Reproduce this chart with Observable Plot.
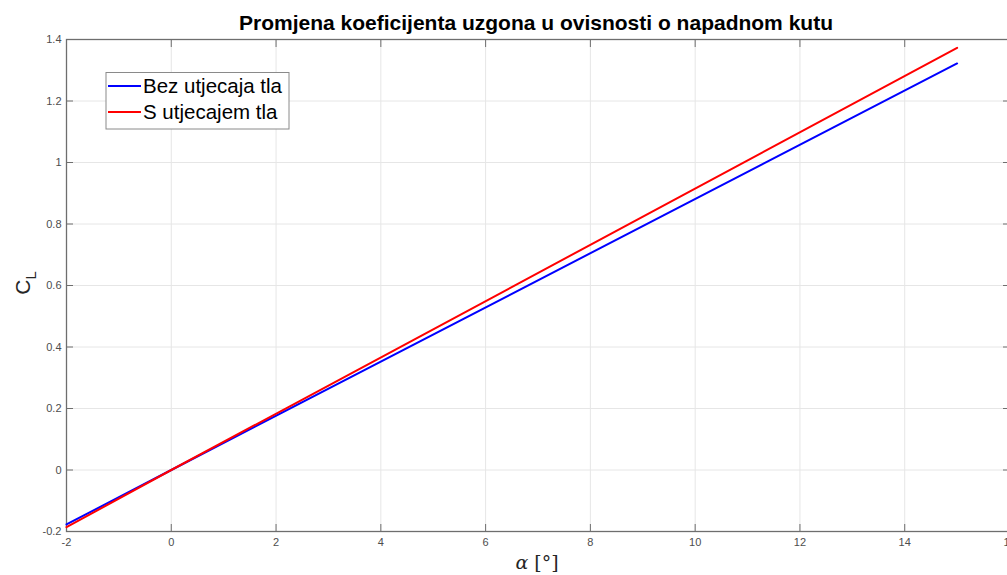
<!DOCTYPE html>
<html>
<head>
<meta charset="utf-8">
<script src="https://cdn.jsdelivr.net/npm/d3@7"></script>
<script src="https://cdn.jsdelivr.net/npm/@observablehq/plot@0.6"></script>
<style>
  html, body { margin: 0; padding: 0; background: #fff; overflow: hidden; width: 1007px; height: 575px; }
  #chart { width: 1007px; height: 575px; overflow: hidden; }
  #chart svg { display: block; max-width: none !important; width: 1040px !important; height: 575px !important; }
</style>
</head>
<body>
<div id="chart"></div>
<script>
const titleText = "Promjena koeficijenta uzgona u ovisnosti o napadnom kutu";
const seriesNames = ["Bez utjecaja tla", "S utjecajem tla"];
const seriesColors = ["#0000ff", "#ff0000"];
const alpha = [-2, 0, 15];
const clBez = [-0.177, 0, 1.322];
const clS = [-0.186, 0, 1.373];
const xTicks = [-2, 0, 2, 4, 6, 8, 10, 12, 14, 16];
const yTicks = [-0.2, 0, 0.2, 0.4, 0.6, 0.8, 1, 1.2, 1.4];

const rows = [];
alpha.forEach((a, i) => rows.push({a, cl: clBez[i], s: seriesNames[0]}));
alpha.forEach((a, i) => rows.push({a, cl: clS[i], s: seriesNames[1]}));

const W = 1040, H = 575;
const mL = 66, mT = 39, mB = 44, mR = W - 1009;
const axisColor = "#6e6e6e";
const font = "Liberation Sans, Arial, Helvetica, sans-serif";

const chart = Plot.plot({
  width: W, height: H,
  marginLeft: mL, marginRight: mR, marginTop: mT, marginBottom: mB,
  style: {fontFamily: font, fontSize: "11px", color: "#4d4d4d", background: "#fff", overflow: "visible", maxWidth: "none"},
  x: {domain: [-2, 16], ticks: xTicks, label: null},
  y: {domain: [-0.2, 1.4], ticks: yTicks, label: null},
  marks: [
    Plot.gridX(xTicks, {stroke: "#e6e6e6", strokeOpacity: 1}),
    Plot.gridY(yTicks, {stroke: "#e6e6e6", strokeOpacity: 1}),
    Plot.axisX(xTicks, {anchor: "bottom", tickSize: -7, text: null, stroke: axisColor}),
    Plot.axisX(xTicks, {anchor: "top", tickSize: -7, text: null, stroke: axisColor}),
    Plot.axisY(yTicks, {anchor: "left", tickSize: -7, text: null, stroke: axisColor}),
    Plot.axisY(yTicks, {anchor: "right", tickSize: -7, text: null, stroke: axisColor}),
    Plot.axisX(xTicks, {anchor: "bottom", tickSize: 0, tickPadding: 7, tickFormat: d => String(d), fill: "#4d4d4d", label: null}),
    Plot.axisY(yTicks, {anchor: "left", tickSize: 0, tickPadding: 5, tickFormat: d => String(d), fill: "#4d4d4d", label: null}),
    Plot.frame({stroke: axisColor, strokeWidth: 1.3}),
    Plot.line(rows, {x: "a", y: "cl", z: "s", stroke: "s", strokeWidth: 2})
  ],
  color: {domain: seriesNames, range: seriesColors}
});

document.getElementById("chart").appendChild(chart);
const svg = d3.select(chart);

// Title
svg.append("text")
  .attr("x", 536).attr("y", 30)
  .attr("text-anchor", "middle")
  .attr("font-family", font).attr("font-weight", "bold").attr("font-size", 21)
  .attr("fill", "#000")
  .text(titleText);

// Y label
const yl = svg.append("text")
  .attr("transform", "translate(30,283) rotate(-90)")
  .attr("text-anchor", "middle")
  .attr("font-family", font).attr("font-size", 21).attr("fill", "#262626");
yl.append("tspan").text("C");
yl.append("tspan").attr("dy", 6).attr("font-size", 15).text("L");

// X label
const xl = svg.append("text")
  .attr("x", 537).attr("y", 569)
  .attr("text-anchor", "middle")
  .attr("font-family", "DejaVu Serif, Liberation Serif, serif").attr("font-size", 19).attr("fill", "#262626");
xl.append("tspan").attr("font-style", "italic").text("α");
xl.append("tspan").text(" [°]");

// Legend
const lg = svg.append("g").attr("text-anchor", "start");
lg.append("rect").attr("x", 106).attr("y", 72.5).attr("width", 183).attr("height", 56.5)
  .attr("fill", "#fff").attr("stroke", "#8a8a8a").attr("stroke-width", 1);
seriesNames.forEach((name, i) => {
  const y = 86 + i * 26;
  lg.append("line").attr("x1", 108).attr("x2", 141).attr("y1", y).attr("y2", y)
    .attr("stroke", seriesColors[i]).attr("stroke-width", 2);
  lg.append("text").attr("x", 143).attr("y", y + 7).attr("text-anchor", "start")
    .attr("font-family", font).attr("font-size", 20.5).attr("fill", "#000").text(name);
});
</script>
</body>
</html>
